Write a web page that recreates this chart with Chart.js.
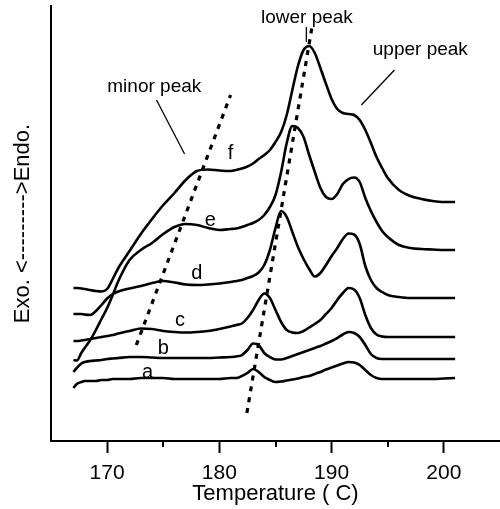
<!DOCTYPE html>
<html>
<head>
<meta charset="utf-8">
<script src="https://cdn.jsdelivr.net/npm/chart.js@4"></script>
<style>
  body { margin: 0; background: #fff; }
  canvas { display: block; }
</style>
</head>
<body>
<canvas id="dsc" width="500" height="509"></canvas>
<script>
// temperature grid (C) shared by all traces
const temps = [167, 167.3, 167.7, 168, 168.5, 169, 169.5, 170, 170.5, 171,
  172, 173, 174, 175, 176, 177, 178, 179, 180, 181,
  181.5, 182, 182.5, 183, 183.5, 184, 184.5, 185, 185.5, 186,
  186.5, 187, 187.5, 188, 188.5, 189, 189.5, 190, 190.5, 191,
  191.5, 192, 192.5, 193, 193.5, 194, 194.5, 195, 196, 197,
  198, 199, 200, 201];

// heat flow, arbitrary units (curves offset vertically)
const curveA = [5.3, 5.7, 5.9, 6.0, 6.0, 6.0, 6.1, 6.1, 6.2, 6.2,
  6.2, 6.3, 6.3, 6.3, 6.2, 6.2, 6.2, 6.2, 6.2, 6.3,
  6.3, 6.5, 6.8, 7.2, 6.9, 6.4, 6.1, 5.9, 5.95, 6.05,
  6.15, 6.25, 6.4, 6.5, 6.7, 6.9, 7.15, 7.35, 7.55, 7.75,
  7.9, 7.85, 7.6, 7.1, 6.6, 6.3, 6.2, 6.2, 6.2, 6.2,
  6.2, 6.2, 6.25, 6.3];
const curveB = [6.9, 7.3, 7.75, 7.9, 8.0, 8.05, 8.1, 8.2, 8.25, 8.3,
  8.4, 8.4, 8.35, 8.3, 8.3, 8.3, 8.3, 8.3, 8.35, 8.4,
  8.45, 8.6, 9.1, 9.75, 9.6, 8.8, 8.4, 8.15, 8.15, 8.3,
  8.5, 8.7, 8.9, 9.1, 9.3, 9.5, 9.75, 10.0, 10.3, 10.65,
  10.9, 10.8, 10.4, 9.6, 8.7, 8.3, 8.2, 8.2, 8.2, 8.2,
  8.2, 8.2, 8.2, 8.2];
const curveC = [10.0, 10.0, 10.05, 10.1, 10.2, 10.3, 10.4, 10.5, 10.6, 10.75,
  11.0, 11.25, 11.2, 11.0, 10.9, 10.85, 10.9, 11.0, 11.2, 11.45,
  11.6, 11.75, 12.3, 13.1, 14.1, 14.75, 14.3, 13.1, 11.9, 11.1,
  10.85, 10.8, 11.0, 11.35, 11.7, 12.1, 12.7, 13.3, 14.1, 14.8,
  15.3, 15.15, 14.3, 12.6, 11.3, 10.65, 10.45, 10.4, 10.4, 10.4,
  10.4, 10.4, 10.4, 10.4];
const curveD = [12.7, 12.7, 12.7, 12.65, 12.6, 13.0, 13.6, 14.25, 14.7, 14.95,
  15.25, 15.5, 15.8, 16.0, 15.85, 15.65, 15.6, 15.65, 15.75, 15.9,
  16.0, 16.1, 16.3, 16.5, 16.85, 17.6, 19.1, 21.3, 23.0, 22.4,
  20.9, 19.4, 18.2, 17.2, 16.45, 16.8, 17.6, 18.5, 19.3, 20.2,
  20.75, 20.65, 19.7, 17.5, 16.1, 15.3, 14.9, 14.6, 14.4, 14.3,
  14.3, 14.3, 14.3, 14.3];
const curveE = [8.1, 8.05, 8.8, 9.3, 10.1, 11.1, 12.2, 13.3, 14.6, 16.0,
  18.1, 19.1, 19.8, 20.7, 21.4, 21.7, 21.6, 21.3, 21.1, 21.2,
  21.25, 21.4, 21.6, 21.8, 22.1, 22.6, 23.4, 24.6, 26.9, 29.8,
  31.5, 31.3, 30.4, 28.6, 26.9, 25.3, 24.4, 24.2, 24.7, 25.7,
  26.2, 26.35, 25.9, 24.3, 23.0, 21.9, 21.0, 20.4, 19.6, 19.3,
  19.2, 19.15, 19.1, 19.1];
const curveF = [15.3, 15.3, 15.25, 15.2, 15.1, 15.0, 14.95, 15.2, 16.2, 17.3,
  19.0, 20.7, 22.2, 23.6, 24.8, 26.1, 27.0, 27.15, 27.05, 27.0,
  27.1, 27.25, 27.45, 27.75, 28.2, 28.6, 29.1, 29.9, 30.9, 32.6,
  35.1, 37.5, 39.1, 39.5, 38.8, 37.3, 35.7, 34.2, 33.2, 32.8,
  32.7, 32.6, 32.1, 31.1, 29.8, 28.4, 27.3, 26.3, 25.1, 24.5,
  24.2, 24.0, 23.9, 23.9];

const curveNames = ['a', 'b', 'c', 'd', 'e', 'f'];
// where each curve letter sits [T, y]
const curveLabelPos = [[173.6, 6.9], [175.0, 9.3], [176.5, 12.1], [178.0, 16.8], [179.2, 22.1], [181.0, 28.8]];

// dashed guide lines through the peaks
const minorPeakLine = [{ x: 172.6, y: 9.6 }, { x: 181.0, y: 34.6 }];
const lowerPeakLine = [{ x: 182.45, y: 2.8 }, { x: 188.25, y: 41.4 }];

// leader lines for the notes
const minorLeader = [{ x: 174.4, y: 34.1 }, { x: 176.9, y: 28.7 }];
const lowerLeader = [{ x: 187.75, y: 41.4 }, { x: 187.75, y: 39.9 }];
const upperLeader = [{ x: 195.6, y: 37.1 }, { x: 192.65, y: 33.6 }];

const notes = [
  { text: 'minor peak', x: 174.2, y: 35.4 },
  { text: 'lower peak', x: 187.8, y: 42.3 },
  { text: 'upper peak', x: 197.9, y: 39.1 }
];

const majorTicks = [170, 180, 190, 200];
const minorTicks = [175, 185, 195];

const FONT = 'Liberation Sans, Arial, sans-serif';

const curves = [curveA, curveB, curveC, curveD, curveE, curveF];
const datasets = curves.map((vals, i) => ({
  label: curveNames[i],
  data: temps.map((t, j) => ({ x: t, y: vals[j] })),
  borderColor: '#000',
  borderWidth: 2.6,
  pointRadius: 0,
  cubicInterpolationMode: 'monotone',
  fill: false
}));

[minorPeakLine, lowerPeakLine].forEach(d => datasets.push({
  data: d, borderColor: '#000', borderWidth: 3.2, borderDash: [5, 6],
  pointRadius: 0, fill: false
}));
[minorLeader, lowerLeader, upperLeader].forEach(d => datasets.push({
  data: d, borderColor: '#000', borderWidth: 1.3, pointRadius: 0, fill: false
}));

const annotations = {
  id: 'annotations',
  afterDraw(chart) {
    const { ctx, scales: { x, y } } = chart;
    ctx.save();
    ctx.fillStyle = '#000';
    ctx.strokeStyle = '#000';
    // minor ticks on the temperature axis
    ctx.lineWidth = 2;
    minorTicks.forEach(v => {
      const px = Math.round(x.getPixelForValue(v));
      ctx.beginPath();
      ctx.moveTo(px, chart.chartArea.bottom);
      ctx.lineTo(px, chart.chartArea.bottom + 6);
      ctx.stroke();
    });
    ctx.textAlign = 'center';
    ctx.textBaseline = 'middle';
    ctx.font = '19px ' + FONT;
    notes.forEach(n => ctx.fillText(n.text, x.getPixelForValue(n.x), y.getPixelForValue(n.y)));
    ctx.font = '20px ' + FONT;
    curveLabelPos.forEach((p, i) => ctx.fillText(curveNames[i], x.getPixelForValue(p[0]), y.getPixelForValue(p[1])));
    ctx.restore();
  }
};

new Chart(document.getElementById('dsc'), {
  type: 'line',
  data: { datasets },
  options: {
    responsive: false,
    animation: false,
    layout: { padding: { top: 6, right: 0, bottom: 0, left: 0 } },
    plugins: { legend: { display: false }, tooltip: { enabled: false } },
    scales: {
      x: {
        type: 'linear',
        min: 165,
        max: 205,
        afterBuildTicks: s => { s.ticks = majorTicks.map(v => ({ value: v })); },
        afterFit: s => { s.height = 68; },
        grid: { drawOnChartArea: false, tickLength: 12, tickWidth: 2, tickColor: '#000' },
        border: { display: true, color: '#000', width: 2 },
        ticks: { color: '#000', font: { family: FONT, size: 21 }, padding: 8, maxRotation: 0 },
        title: { display: true, text: 'Temperature ( C)', color: '#000', font: { family: FONT, size: 22 }, padding: { top: 0, bottom: 2 } }
      },
      y: {
        min: 0,
        max: 43.5,
        afterFit: s => { s.width = 51; },
        grid: { display: false },
        border: { display: true, color: '#000', width: 2 },
        ticks: { display: false },
        title: { display: true, text: 'Exo. <--------->Endo.', color: '#000', font: { family: FONT, size: 22 }, padding: { top: 10, bottom: 0 } }
      }
    }
  },
  plugins: [annotations]
});
</script>
</body>
</html>
